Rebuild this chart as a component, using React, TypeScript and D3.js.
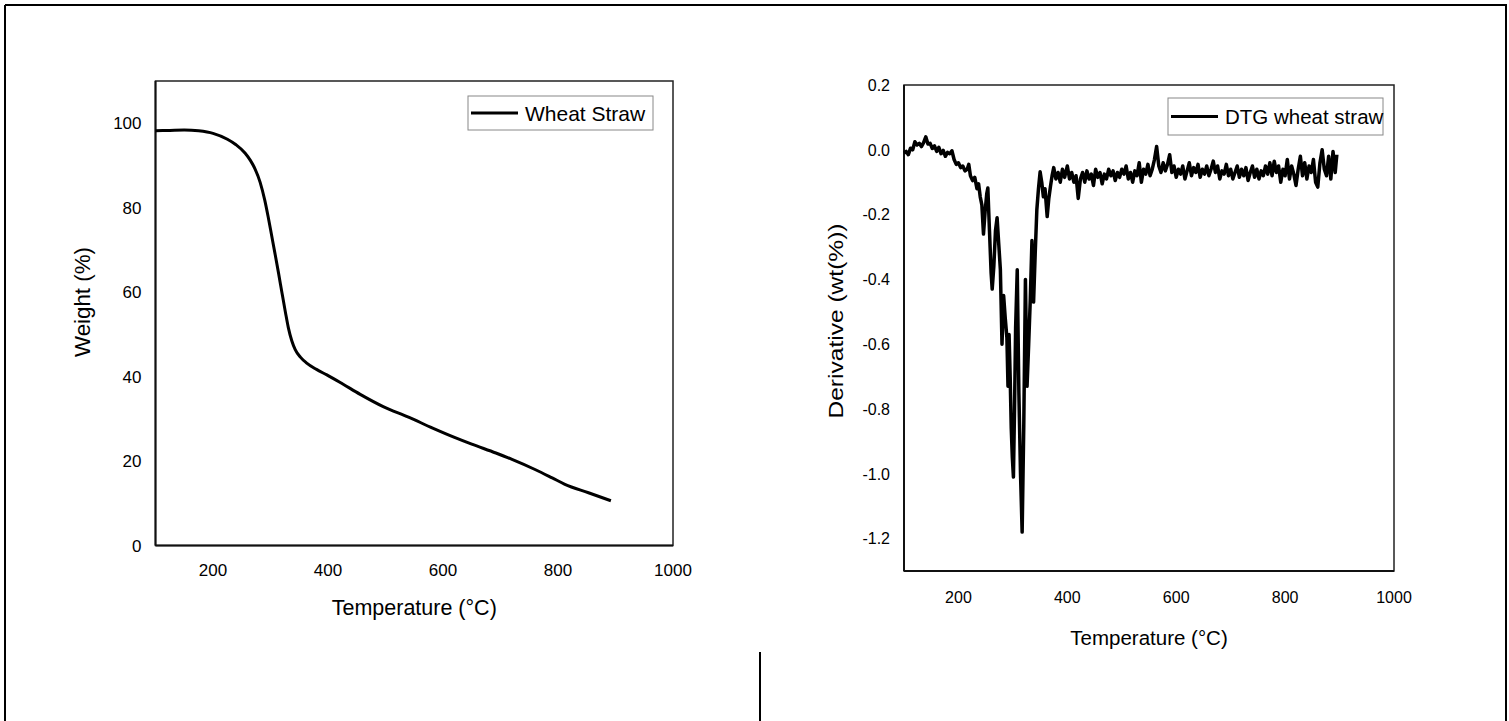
import React, { useEffect, useRef } from "react";
import * as d3 from "d3";

// TGA curve (weight % vs temperature)
const tgaTemp = [100, 125, 150, 175, 200, 225, 240, 256, 265, 273, 282, 290, 296, 302, 308, 314, 320, 326, 331, 337, 343, 352, 363, 380, 398, 425, 456, 496, 540, 582, 620, 650, 692, 720, 760, 790, 812, 853, 892];
const tgaWeight = [98.2, 98.3, 98.4, 98.2, 97.6, 96.2, 94.9, 92.9, 91.2, 89.2, 86.0, 81.8, 77.8, 73.4, 69, 64.5, 59.8, 55.2, 51.6, 48.5, 46.4, 44.6, 43.2, 41.7, 40.4, 38.3, 35.8, 32.9, 30.4, 27.8, 25.6, 24.0, 21.9, 20.4, 18.0, 16.0, 14.5, 12.5, 10.6];

// DTG curve (derivative vs temperature)
const dtgTemp = [
  100, 104, 108, 112, 116, 120, 124, 128, 132, 136, 140, 144, 148, 152, 156, 160, 164, 168, 172, 176,
  180, 184, 188, 192, 196, 200, 204, 208, 212, 216, 219, 222, 226, 230, 234, 237, 240, 243, 246, 249,
  252, 254, 257, 260, 262, 265, 268, 271, 274, 277, 280, 283, 286, 289, 291, 293, 295, 297, 299, 301,
  303, 305, 308, 311, 314, 317, 320, 323, 326, 329, 332, 335, 338, 341, 344, 347, 350, 353, 356, 359,
  363, 366, 369, 372, 375, 379, 383, 387, 391, 395, 400, 404, 408, 412, 416, 420, 424, 428, 432, 436,
  440, 444, 448, 452, 456, 460, 464, 468, 472, 476, 480, 484, 488, 492, 496, 500, 504, 508, 512, 516,
  520, 524, 528, 532, 536, 540, 544, 548, 552, 556, 560, 564, 568, 572, 576, 580, 584, 588, 592, 596,
  600, 604, 608, 612, 616, 620, 624, 628, 632, 636, 640, 644, 648, 652, 656, 660, 664, 668, 672, 676,
  680, 684, 688, 692, 696, 700, 704, 708, 712, 716, 720, 724, 728, 732, 736, 740, 744, 748, 752, 756,
  760, 764, 768, 772, 776, 780, 784, 788, 792, 796, 800, 804, 808, 812, 816, 820, 824, 828, 832, 836,
  840, 844, 848, 852, 856, 860, 864, 868, 872, 876, 880, 884, 888, 892, 895,
];
const dtgValue = [
  -0.01, -0.005, -0.015, 0.005, 0.0, 0.025, 0.015, 0.02, 0.01, 0.022, 0.04, 0.018, 0.02, 0.004, 0.012, -0.005, 0.008, -0.012, -0.002, -0.02,
  -0.008, -0.012, -0.003, -0.03, -0.045, -0.04, -0.055, -0.05, -0.065, -0.06, -0.045, -0.08, -0.095, -0.085, -0.12, -0.105, -0.145, -0.17, -0.26, -0.19,
  -0.135, -0.118, -0.25, -0.38, -0.43, -0.36, -0.25, -0.21, -0.29, -0.37, -0.6, -0.45, -0.52, -0.58, -0.73, -0.57, -0.7, -0.86, -0.95, -1.01,
  -0.8, -0.55, -0.37, -0.75, -1.0, -1.18, -0.85, -0.4, -0.73, -0.6, -0.46, -0.28, -0.47, -0.32, -0.185, -0.12, -0.068, -0.1, -0.145, -0.12,
  -0.206, -0.15, -0.113, -0.08, -0.055, -0.09, -0.07, -0.1, -0.06, -0.085, -0.05, -0.09, -0.07, -0.1, -0.08, -0.15, -0.09, -0.07, -0.1, -0.065,
  -0.09, -0.075, -0.11, -0.06, -0.085, -0.07, -0.105, -0.075, -0.09, -0.06, -0.08, -0.065, -0.095, -0.07, -0.085, -0.06, -0.075, -0.05, -0.09, -0.07,
  -0.1, -0.065, -0.08, -0.04, -0.1, -0.06, -0.075, -0.045, -0.08, -0.06, -0.03, 0.01, -0.05, -0.07, -0.04, -0.065, -0.045, -0.015, -0.07, -0.05,
  -0.085, -0.06, -0.075, -0.05, -0.09, -0.065, -0.04, -0.08, -0.055, -0.07, -0.045, -0.085, -0.06, -0.075, -0.05, -0.08, -0.06, -0.035, -0.07, -0.05,
  -0.09, -0.065, -0.075, -0.045, -0.08, -0.06, -0.09, -0.07, -0.05, -0.085, -0.06, -0.08, -0.055, -0.095, -0.07, -0.05, -0.085, -0.06, -0.09, -0.065,
  -0.08, -0.05, -0.075, -0.04, -0.08, -0.035, -0.07, -0.05, -0.1, -0.06, -0.08, -0.03, -0.09, -0.05, -0.075, -0.11, -0.06, -0.02, -0.08, -0.04,
  -0.09, -0.05, -0.07, -0.03, -0.1, -0.115, -0.04, 0.0, -0.06, -0.08, -0.02, -0.09, -0.005, -0.07, -0.015,
];

const xTicks = [200, 400, 600, 800, 1000];
const tgaYTicks = [0, 20, 40, 60, 80, 100];
const dtgYTicks = [0.2, 0.0, -0.2, -0.4, -0.6, -0.8, -1.0, -1.2];

const FONT = "'Liberation Sans', Arial, sans-serif";

const drawPanel = (svg, cfg) => {
  const { left, right, top, bottom } = cfg.box;
  const x = d3.scaleLinear().domain([100, 1000]).range([left, right]);
  const y = d3.scaleLinear().domain(cfg.yDomain).range([bottom, top]);
  const g = svg.append("g");

  // frame: thin top/right, heavier left/bottom
  g.append("rect")
    .attr("x", left).attr("y", top)
    .attr("width", right - left).attr("height", bottom - top)
    .attr("fill", "none").attr("stroke", "#222").attr("stroke-width", 1.5);
  g.append("line").attr("x1", left).attr("x2", left).attr("y1", top).attr("y2", bottom)
    .attr("stroke", "#111").attr("stroke-width", 2);
  g.append("line").attr("x1", left).attr("x2", right).attr("y1", bottom).attr("y2", bottom)
    .attr("stroke", "#111").attr("stroke-width", 2);

  // tick labels
  g.selectAll(".yt").data(cfg.yTicks).enter().append("text")
    .attr("x", left - 14)
    .attr("y", d => y(d) + cfg.tickSize * 0.36)
    .attr("text-anchor", "end")
    .style("font-size", cfg.tickSize + "px")
    .attr("font-family", FONT)
    .text(d => cfg.yFmt(d));

  g.selectAll(".xt").data(xTicks).enter().append("text")
    .attr("x", d => x(d))
    .attr("y", cfg.xTickY)
    .attr("text-anchor", "middle")
    .style("font-size", cfg.tickSize + "px")
    .attr("font-family", FONT)
    .text(d => d);

  // axis titles
  g.append("text")
    .attr("x", (left + right) / 2)
    .attr("y", cfg.xTitleY)
    .attr("text-anchor", "middle")
    .style("font-size", cfg.titleSize + "px")
    .attr("font-family", FONT)
    .text("Temperature (\u00B0C)");

  g.append("text")
    .attr("transform", `translate(${cfg.yTitleX},${cfg.yTitleCy}) rotate(-90)`)
    .attr("text-anchor", "middle")
    .style("font-size", cfg.titleSize + "px")
    .attr("font-family", FONT)
    .attr("textLength", cfg.yTitleLen)
    .attr("lengthAdjust", "spacingAndGlyphs")
    .text(cfg.yTitle);

  // data line
  const line = d3.line().x(d => x(d[0])).y(d => y(d[1]));
  g.append("path")
    .datum(cfg.temps.map((t, i) => [t, cfg.values[i]]))
    .attr("d", cfg.smooth ? line.curve(d3.curveMonotoneX) : line)
    .attr("fill", "none")
    .attr("stroke", "#000")
    .attr("stroke-width", cfg.lineWidth)
    .attr("stroke-linejoin", "round");

  // legend
  const lg = cfg.legend;
  g.append("rect")
    .attr("x", lg.x).attr("y", lg.y).attr("width", lg.w).attr("height", lg.h)
    .attr("fill", "#fff").attr("stroke", "#888").attr("stroke-width", 1);
  g.append("line")
    .attr("x1", lg.x + 3).attr("x2", lg.x + 50)
    .attr("y1", lg.y + lg.h / 2).attr("y2", lg.y + lg.h / 2)
    .attr("stroke", "#000").attr("stroke-width", 3);
  g.append("text")
    .attr("x", lg.x + 57)
    .attr("y", lg.y + lg.h / 2 + lg.size * 0.36)
    .style("font-size", lg.size + "px")
    .attr("font-family", FONT)
    .text(lg.label);
};

const App = () => {
  const svgRef = useRef(null);

  useEffect(() => {
    const svg = d3.select(svgRef.current);
    svg.selectAll("*").remove();

    // outer frame of the figure
    svg.append("rect").attr("x", 0).attr("y", 0).attr("width", 1509).attr("height", 721).attr("fill", "#fff");
    svg.append("line").attr("x1", 5).attr("x2", 1507).attr("y1", 5).attr("y2", 5).attr("stroke", "#000").attr("stroke-width", 2);
    svg.append("line").attr("x1", 5).attr("x2", 5).attr("y1", 5).attr("y2", 721).attr("stroke", "#000").attr("stroke-width", 2);
    svg.append("line").attr("x1", 1506).attr("x2", 1506).attr("y1", 5).attr("y2", 721).attr("stroke", "#000").attr("stroke-width", 2);
    svg.append("line").attr("x1", 760).attr("x2", 760).attr("y1", 652).attr("y2", 721).attr("stroke", "#000").attr("stroke-width", 2);

    drawPanel(svg, {
      box: { left: 155.5, right: 673, top: 81, bottom: 545.5 },
      yDomain: [0, 110],
      yTicks: tgaYTicks,
      yFmt: d => d,
      tickSize: 17,
      xTickY: 576,
      titleSize: 21.5,
      xTitleY: 615,
      yTitle: "Weight (%)",
      yTitleX: 90,
      yTitleCy: 302,
      yTitleLen: 110,
      temps: tgaTemp,
      values: tgaWeight,
      smooth: true,
      lineWidth: 3,
      legend: { x: 468, y: 96, w: 185, h: 34, size: 21, label: "Wheat Straw" },
    });

    drawPanel(svg, {
      box: { left: 904, right: 1394, top: 85, bottom: 571 },
      yDomain: [-1.3, 0.2],
      yTicks: dtgYTicks,
      yFmt: d => d3.format(".1f")(d).replace("\u2212", "-"),
      tickSize: 16,
      xTickY: 603,
      titleSize: 20.5,
      xTitleY: 645,
      yTitle: "Derivative (wt(%))",
      yTitleX: 843,
      yTitleCy: 321,
      yTitleLen: 195,
      temps: dtgTemp,
      values: dtgValue,
      smooth: false,
      lineWidth: 3.5,
      legend: { x: 1168, y: 98, w: 215, h: 37, size: 20.5, label: "DTG wheat straw" },
    });
  }, []);

  return (
    <div style={{ position: "absolute", left: 0, top: 0 }}>
      <svg ref={svgRef} width={1509} height={721} style={{ display: "block" }}></svg>
    </div>
  );
};

export default App;
